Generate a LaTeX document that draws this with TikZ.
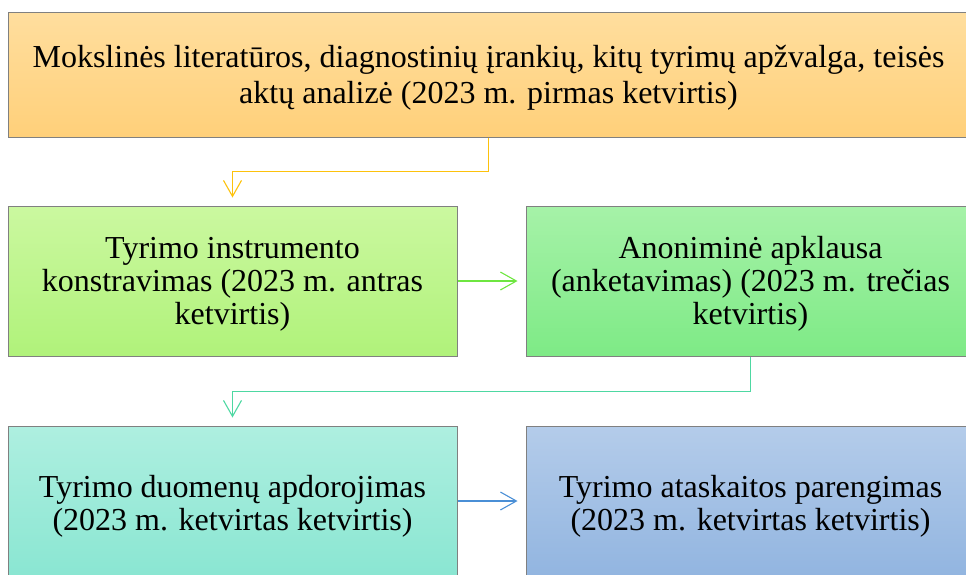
\documentclass[tikz,border=0pt]{standalone}
\usepackage{fontspec}
\setmainfont{Liberation Serif}
\usetikzlibrary{arrows.meta}
\definecolor{bordergray}{HTML}{808080}
\definecolor{c1top}{HTML}{FFDE9E}\definecolor{c1bot}{HTML}{FFD07A}
\definecolor{c2top}{HTML}{CBF8A0}\definecolor{c2bot}{HTML}{B0F27A}
\definecolor{c3top}{HTML}{A6F2A8}\definecolor{c3bot}{HTML}{7EEA86}
\definecolor{c4top}{HTML}{AEEFE0}\definecolor{c4bot}{HTML}{8AE6D2}
\definecolor{c5top}{HTML}{B4CCEA}\definecolor{c5bot}{HTML}{92B5E0}
\definecolor{a1}{HTML}{FDC20C}
\definecolor{a2}{HTML}{6EE640}
\definecolor{a3}{HTML}{4ED8A2}
\definecolor{a4}{HTML}{4A8FD6}
\tikzset{
  box/.style={draw=bordergray, line width=1pt, rectangle, inner sep=0pt,
    minimum width=449pt, minimum height=150pt},
  boxtext/.style={align=center, inner sep=0pt, font=\fontsize{32pt}{33pt}\selectfont},
  conn/.style={line width=1.1pt, -{Straight Barb[length=16pt,width=18pt,line width=1.1pt]}, shorten >=8pt}
}
\begin{document}
\begin{tikzpicture}[x=1pt,y=-1pt]
\clip (0,0) rectangle (966,574);
\node[box, minimum width=961pt, minimum height=125pt, top color=c1top, bottom color=c1bot] (b1) at (488.5,74.5) {};
\node[box, top color=c2top, bottom color=c2bot] (b2) at (232.5,281) {};
\node[box, top color=c3top, bottom color=c3bot] (b3) at (750.5,281) {};
\node[box, top color=c4top, bottom color=c4bot] (b4) at (232.5,501) {};
\node[box, top color=c5top, bottom color=c5bot] (b5) at (750.5,501) {};
\node[boxtext, font=\fontsize{32pt}{36pt}\selectfont] (t1) at ([yshift=-3pt]b1.center)
  {Mokslinės literatūros, diagnostinių įrankių, kitų tyrimų apžvalga, teisės\\aktų analizė (2023 m. pirmas ketvirtis)};
\node[boxtext] (t2) at ([yshift=-3pt]b2.center)
  {Tyrimo instrumento\\konstravimas (2023 m. antras\\ketvirtis)};
\node[boxtext] (t3) at ([yshift=-3pt]b3.center)
  {Anoniminė apklausa\\(anketavimas) (2023 m. trečias\\ketvirtis)};
\node[boxtext] (t4) at ([yshift=-5pt]b4.center)
  {Tyrimo duomenų apdorojimas\\(2023 m. ketvirtas ketvirtis)};
\node[boxtext] (t5) at ([yshift=-5pt]b5.center)
  {Tyrimo ataskaitos parengimas\\(2023 m. ketvirtas ketvirtis)};
\draw[conn, a1] (b1.south) -- ++(0,34) -| (b2.north);
\draw[conn, a2] (b2.east) -- (b3.west);
\draw[conn, a3] (b3.south) -- ++(0,35) -| (b4.north);
\draw[conn, a4] (b4.east) -- (b5.west);
\end{tikzpicture}
\end{document}
